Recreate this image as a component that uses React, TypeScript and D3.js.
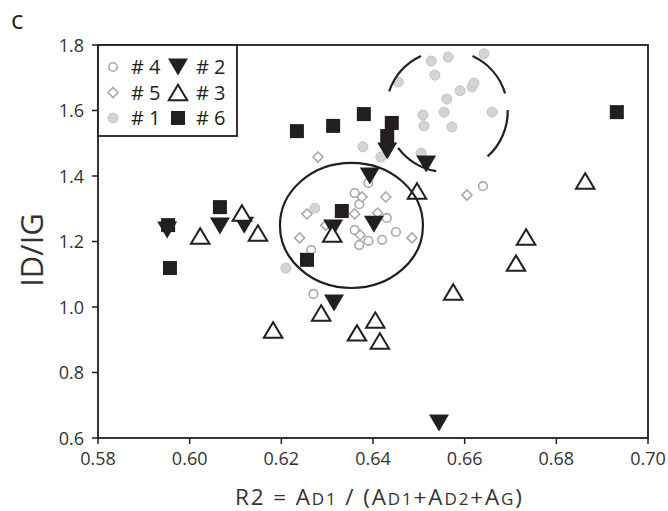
import React from "react";
import * as d3 from "d3";

const xTicks = [0.58, 0.6, 0.62, 0.64, 0.66, 0.68, 0.7];
const yTicks = [0.6, 0.8, 1.0, 1.2, 1.4, 1.6, 1.8];

// #4 open gray circles
const series4: [number, number][] = [
  [0.636, 1.348], [0.637, 1.314], [0.643, 1.272], [0.636, 1.235], [0.639, 1.202],
  [0.642, 1.205], [0.645, 1.229], [0.637, 1.189], [0.6265, 1.174], [0.639, 1.379],
  [0.627, 1.04], [0.664, 1.369],
];
// #5 open gray diamonds
const series5: [number, number][] = [
  [0.628, 1.458], [0.6376, 1.336], [0.6428, 1.336], [0.6256, 1.284], [0.636, 1.284],
  [0.641, 1.287], [0.6297, 1.25], [0.624, 1.211], [0.6485, 1.211], [0.6372, 1.22],
  [0.6605, 1.342],
];
// #1 filled gray circles
const series1: [number, number][] = [
  [0.6273, 1.302], [0.621, 1.119], [0.6378, 1.489], [0.6417, 1.458], [0.6505, 1.47],
  [0.6455, 1.687], [0.6527, 1.751], [0.6564, 1.763], [0.6642, 1.773], [0.6535, 1.708],
  [0.6561, 1.635], [0.659, 1.66], [0.6616, 1.672], [0.662, 1.684], [0.6509, 1.586],
  [0.6555, 1.595], [0.666, 1.595], [0.6511, 1.553], [0.6572, 1.55],
];
// #6 filled squares
const series6: [number, number][] = [
  [0.5957, 1.119], [0.5953, 1.25], [0.6066, 1.305], [0.6234, 1.537], [0.6313, 1.553],
  [0.638, 1.589], [0.6441, 1.562], [0.6431, 1.522], [0.6332, 1.293], [0.6256, 1.144],
  [0.6932, 1.595],
];
// #2 filled down triangles
const series2: [number, number][] = [
  [0.5951, 1.235], [0.6066, 1.247], [0.6119, 1.25], [0.6313, 1.241], [0.6402, 1.253],
  [0.6393, 1.4], [0.6431, 1.476], [0.6516, 1.437], [0.6315, 1.012], [0.6544, 0.646],
];
// #3 open up triangles
const series3: [number, number][] = [
  [0.6023, 1.217], [0.6114, 1.287], [0.6149, 1.226], [0.6182, 0.93], [0.6311, 1.223],
  [0.6287, 0.982], [0.6365, 0.921], [0.6405, 0.96], [0.6415, 0.896], [0.6575, 1.046],
  [0.6496, 1.354], [0.6863, 1.385], [0.6734, 1.214], [0.6712, 1.134],
];

// annotation ellipse (solid) and broken circle
const solidEllipse = { cx: 0.6353, cy: 1.249, rx: 0.0156, ry: 0.191 };
const brokenCircle = { cx: 0.6561, cy: 1.598, rx: 0.0133 };
const brokenArcsDeg: [number, number][] = [[199, 245], [295, 343], [-1, 48], [100, 143]];

const FONT = "'Open Sans', 'Noto Sans', sans-serif";

const x = d3.scaleLinear().domain([0.58, 0.7]).range([98, 648]);
const y = d3.scaleLinear().domain([0.6, 1.8]).range([438, 45]);

function triDown(cx: number, cy: number, w: number, h: number) {
  return `M${cx - w / 2},${cy - h / 2}L${cx + w / 2},${cy - h / 2}L${cx},${cy + h / 2}Z`;
}
function triUp(cx: number, cy: number, w: number, h: number) {
  return `M${cx - w / 2},${cy + h / 2}L${cx + w / 2},${cy + h / 2}L${cx},${cy - h / 2}Z`;
}
function diamond(cx: number, cy: number, r: number) {
  return `M${cx},${cy - r}L${cx + r},${cy}L${cx},${cy + r}L${cx - r},${cy}Z`;
}

const M = {
  c4: (cx: number, cy: number, k: string | number) => (
    <circle key={k} cx={cx} cy={cy} r={4.3} fill="#fff" stroke="#a8a8a8" strokeWidth={1.6} />
  ),
  c1: (cx: number, cy: number, k: string | number) => (
    <circle key={k} cx={cx} cy={cy} r={5} fill="#d4d4d4" stroke="#c4c4c4" strokeWidth={1} />
  ),
  d5: (cx: number, cy: number, k: string | number) => (
    <path key={k} d={diamond(cx, cy, 5)} fill="#fff" stroke="#a8a8a8" strokeWidth={1.6} />
  ),
  s6: (cx: number, cy: number, k: string | number) => (
    <rect key={k} x={cx - 7} y={cy - 7} width={14} height={14} fill="#231f20" />
  ),
  t2: (cx: number, cy: number, k: string | number) => (
    <path key={k} d={triDown(cx, cy, 20, 17)} fill="#231f20" />
  ),
  t3: (cx: number, cy: number, k: string | number) => (
    <path key={k} d={triUp(cx, cy, 18.5, 15.5)} fill="#fff" stroke="#231f20" strokeWidth={2} />
  ),
};

export default function App() {
  const br = x(brokenCircle.cx + brokenCircle.rx) - x(brokenCircle.cx);
  const bcx = x(brokenCircle.cx);
  const bcy = y(brokenCircle.cy);
  const arcs = brokenArcsDeg.map(([a0, a1]) => {
    const p = d3.path();
    const r0 = (a0 * Math.PI) / 180;
    const r1 = (a1 * Math.PI) / 180;
    p.moveTo(bcx + br * Math.cos(r0), bcy + br * Math.sin(r0));
    p.arc(bcx, bcy, br, r0, r1);
    return p.toString();
  });

  const legendRows = [
    { m1: "c4", l1: "# 4", m2: "t2", l2: "# 2" },
    { m1: "d5", l1: "# 5", m2: "t3", l2: "# 3" },
    { m1: "c1", l1: "# 1", m2: "s6", l2: "# 6" },
  ];

  return (
    <svg width={668} height={511} style={{ position: "absolute", left: 0, top: 0, background: "#fff" }} fontFamily={FONT}>
      <rect x={0} y={0} width={668} height={511} fill="#fff" />
      <text x={11} y={29} fontSize={26} fill="#231f20">c</text>

      {/* points */}
      {series1.map((d, i) => M.c1(x(d[0]), y(d[1]), "a" + i))}
      {series4.map((d, i) => M.c4(x(d[0]), y(d[1]), "b" + i))}
      {series5.map((d, i) => M.d5(x(d[0]), y(d[1]), "c" + i))}
      {series6.map((d, i) => M.s6(x(d[0]), y(d[1]), "d" + i))}
      {series2.map((d, i) => M.t2(x(d[0]), y(d[1]), "e" + i))}
      {series3.map((d, i) => M.t3(x(d[0]), y(d[1]), "f" + i))}

      {/* ellipses */}
      <ellipse
        cx={x(solidEllipse.cx)}
        cy={y(solidEllipse.cy)}
        rx={x(solidEllipse.cx + solidEllipse.rx) - x(solidEllipse.cx)}
        ry={y(solidEllipse.cy - solidEllipse.ry) - y(solidEllipse.cy)}
        fill="none"
        stroke="#231f20"
        strokeWidth={2.2}
      />
      {arcs.map((d, i) => (
        <path key={"arc" + i} d={d} fill="none" stroke="#231f20" strokeWidth={2.2} />
      ))}

      {/* frame */}
      <rect x={x(0.58)} y={y(1.8)} width={x(0.7) - x(0.58)} height={y(0.6) - y(1.8)} fill="none" stroke="#231f20" strokeWidth={1.8} />

      {/* x ticks */}
      {xTicks.map((t) => (
        <g key={"x" + t}>
          <line x1={x(t)} x2={x(t)} y1={y(0.6)} y2={y(0.6) + 6} stroke="#231f20" strokeWidth={1.5} />
          <text x={x(t)} y={465} textAnchor="middle" fontSize={18} fill="#333">{d3.format(".2f")(t)}</text>
        </g>
      ))}
      {/* y ticks */}
      {yTicks.map((t) => (
        <g key={"y" + t}>
          <line x1={x(0.58) - 6} x2={x(0.58)} y1={y(t)} y2={y(t)} stroke="#231f20" strokeWidth={1.5} />
          <text x={84} y={y(t) + 6.5} textAnchor="end" fontSize={18} fill="#333">{d3.format(".1f")(t)}</text>
        </g>
      ))}

      {/* axis titles */}
      <text x={235} y={505} fontSize={22.5} fill="#333" textLength={287} lengthAdjust="spacing">
        <tspan>R2 = A</tspan>
        <tspan fontSize={17}>D1</tspan>
        <tspan> / (A</tspan>
        <tspan fontSize={17}>D1</tspan>
        <tspan>+A</tspan>
        <tspan fontSize={17}>D2</tspan>
        <tspan>+A</tspan>
        <tspan fontSize={17}>G</tspan>
        <tspan>)</tspan>
      </text>
      <text transform="translate(43,250) rotate(-90)" textAnchor="middle" fontSize={31} fill="#333">ID/IG</text>

      {/* legend */}
      <rect x={98} y={45} width={139} height={91} fill="#fff" stroke="#231f20" strokeWidth={1.8} />
      {legendRows.map((r, i) => {
        const ly = 67 + i * 25.5;
        return (
          <g key={"lg" + i}>
            {(M as any)[r.m1](113, ly, "l1" + i)}
            <text x={131} y={ly + 7} fontSize={20} fill="#231f20">{r.l1}</text>
            {(M as any)[r.m2](178, ly, "l2" + i)}
            <text x={196} y={ly + 7} fontSize={20} fill="#231f20">{r.l2}</text>
          </g>
        );
      })}
    </svg>
  );
}
